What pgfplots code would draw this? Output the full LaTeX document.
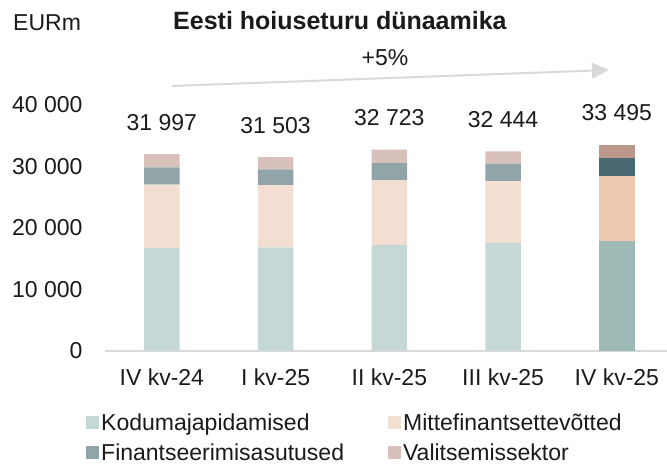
\documentclass[border=0pt]{standalone}
\usepackage{fontspec}
\setmainfont{Liberation Sans}
\usepackage{pgfplots}
\pgfplotsset{compat=1.18}
\usetikzlibrary{arrows.meta}
\definecolor{koduL}{HTML}{C5D8D6}
\definecolor{koduD}{HTML}{9EBAB6}
\definecolor{mittL}{HTML}{F3DFD2}
\definecolor{mittD}{HTML}{EBC8AE}
\definecolor{finL}{HTML}{91A5A9}
\definecolor{finD}{HTML}{4A6973}
\definecolor{valL}{HTML}{D8C1BA}
\definecolor{valD}{HTML}{BA978A}
\definecolor{linegray}{HTML}{D9D9D9}
\definecolor{txt}{HTML}{1A1A1A}
\begin{document}
\begin{tikzpicture}[font=\fontsize{23}{26}\selectfont, text=txt]
\useasboundingbox (0,0) rectangle (667pt,468pt);
\begin{axis}[
    at={(105pt,117.3pt)}, anchor=south west,
    scale only axis, width=568.75pt, height=245.7pt,
    ybar stacked, bar width=35.7pt,
    xmin=-0.5, xmax=4.5, ymin=0, ymax=40000,
    xtick={0,1,2,3,4},
    xticklabels={IV kv-24, I kv-25, II kv-25, III kv-25, IV kv-25},
    ytick={0,10000,20000,30000,40000},
    yticklabels={0,10 000,20 000,30 000,40 000},
    scaled y ticks=false,
    axis x line*=bottom, axis y line*=left,
    x axis line style={draw=linegray, line width=2pt},
    y axis line style={draw=none},
    tick style={draw=none},
    xticklabel style={yshift=-14.5pt},
    yticklabel style={xshift=-19pt},
    clip=false,
    legend columns=2,
    legend cell align=left,
    legend image code/.code={\fill[#1] (0pt,-6.5pt) rectangle (13pt,6.5pt);},
    legend style={at={(-0.0334,-0.247)}, anchor=north west, draw=none,
        fill=none, inner sep=0pt, row sep=8pt,
        /tikz/every even column/.append style={column sep=42pt}},
]
% Kodumajapidamised
\addplot[fill=koduL, draw=none] coordinates {(0,16700) (1,16830) (2,17220) (3,17550) (4,0)};
\addlegendentry{Kodumajapidamised}
\addplot[fill=koduD, draw=none, forget plot] coordinates {(0,0) (1,0) (2,0) (3,0) (4,17810)};
% Mittefinantsettevõtted
\addplot[fill=mittL, draw=none] coordinates {(0,10350) (1,10130) (2,10510) (3,10065) (4,0)};
\addlegendentry{Mittefinantsettevõtted}
\addplot[fill=mittD, draw=none, forget plot] coordinates {(0,0) (1,0) (2,0) (3,0) (4,10570)};
% Finantseerimisasutused
\addplot[fill=finL, draw=none] coordinates {(0,2800) (1,2565) (2,2825) (3,2845) (4,0)};
\addlegendentry{Finantseerimisasutused}
\addplot[fill=finD, draw=none, forget plot] coordinates {(0,0) (1,0) (2,0) (3,0) (4,2940)};
% Valitsemissektor
\addplot[fill=valL, draw=none] coordinates {(0,2147) (1,1978) (2,2168) (3,1984) (4,0)};
\addlegendentry{Valitsemissektor}
\addplot[fill=valD, draw=none, forget plot] coordinates {(0,0) (1,0) (2,0) (3,0) (4,2175)};

\node[anchor=base, yshift=24pt] at (axis cs:0,31997) {31 997};
\node[anchor=base, yshift=24pt] at (axis cs:1,31503) {31 503};
\node[anchor=base, yshift=24pt] at (axis cs:2,32723) {32 723};
\node[anchor=base, yshift=24pt] at (axis cs:3,32444) {32 444};
\node[anchor=base, yshift=24pt] at (axis cs:4,33495) {33 495};
\end{axis}
\node[anchor=west, inner sep=0pt] at (13pt,445pt) {EURm};
\node[anchor=west, inner sep=0pt, font=\bfseries\fontsize{25}{28}\selectfont] at (173pt,447pt) {Eesti hoiuseturu dünaamika};
\node at (385pt,410pt) {+5\%};
\draw[linegray, line width=2pt, -{Triangle[length=17pt,width=16pt]}] (172pt,382pt) -- (609pt,398pt);
\end{tikzpicture}
\end{document}
